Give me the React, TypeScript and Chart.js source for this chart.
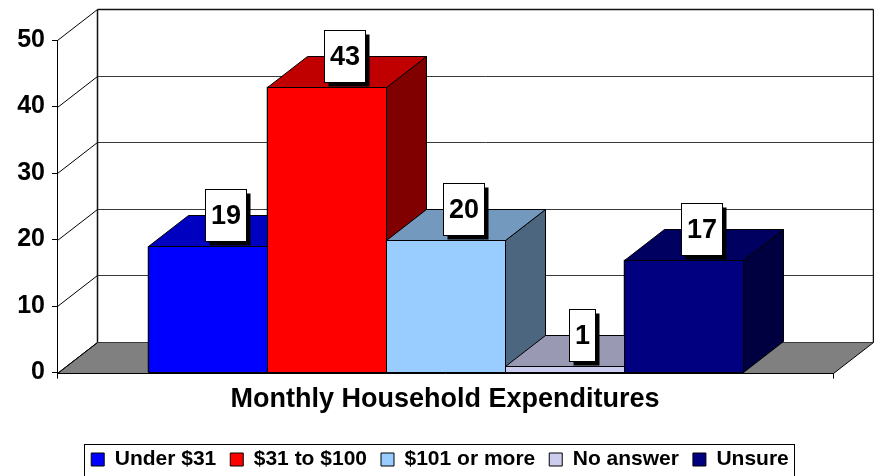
import React, { useEffect, useRef } from "react";
import { Chart, registerables } from "chart.js";

Chart.register(...registerables);

// ---- data ----
const categories = ["Monthly Household Expenditures"];
const seriesNames = ["Under $31", "$31 to $100", "$101 or more", "No answer", "Unsure"];
const seriesValues = [19, 43, 20, 1, 17];
const frontColors = ["#0000FF", "#FF0000", "#99CCFF", "#CCCCEE", "#000080"];
const topColors = ["#0000C0", "#C00000", "#7399BF", "#9999B3", "#000060"];
const sideColors = ["#000080", "#800000", "#4D6680", "#666677", "#000040"];
const yTicks = [0, 10, 20, 30, 40, 50];

const DX = 40;
const DY = 31;
const FONT = "'Liberation Sans', Arial, Helvetica, sans-serif";

const threeD = {
  id: "threeD",
  beforeDatasetsDraw(chart: any) {
    const { ctx, chartArea: a, scales } = chart;
    const ys = scales.y;
    const L = Math.round(a.left) + 0.5;
    const R = Math.round(a.right) + 0.5;
    const y0 = Math.round(ys.getPixelForValue(0)) + 0.5;
    const yTop = Math.round(ys.getPixelForValue(50)) + 0.5;
    ctx.save();
    // floor
    ctx.beginPath();
    ctx.moveTo(L, y0);
    ctx.lineTo(L + DX, y0 - DY);
    ctx.lineTo(R + DX, y0 - DY);
    ctx.lineTo(R, y0);
    ctx.closePath();
    ctx.fillStyle = "#808080";
    ctx.fill();
    ctx.strokeStyle = "#000";
    ctx.lineWidth = 1;
    ctx.stroke();
    // wall gridlines
    for (const v of yTicks) {
      const py = Math.round(ys.getPixelForValue(v)) + 0.5;
      ctx.beginPath();
      ctx.moveTo(L, py);
      ctx.lineTo(L + DX, py - DY);
      ctx.strokeStyle = "#000";
      ctx.lineWidth = 1;
      ctx.stroke();
      ctx.beginPath();
      ctx.moveTo(L + DX, py - DY);
      ctx.lineTo(R + DX, py - DY);
      ctx.strokeStyle = v === 50 ? "#111" : "#3a3a3a";
      ctx.lineWidth = v === 50 ? 1.5 : 1;
      ctx.stroke();
      ctx.lineWidth = 1;
    }
    // back wall verticals
    ctx.strokeStyle = "#111";
    ctx.lineWidth = 1.5;
    ctx.beginPath();
    ctx.moveTo(L + DX, yTop - DY);
    ctx.lineTo(L + DX, y0 - DY);
    ctx.moveTo(R + DX, yTop - DY);
    ctx.lineTo(R + DX, y0 - DY);
    ctx.stroke();
    ctx.restore();
  },
  afterDatasetsDraw(chart: any) {
    const { ctx } = chart;
    ctx.save();
    ctx.lineWidth = 1;
    ctx.strokeStyle = "#000";
    const bars: any[] = [];
    chart.data.datasets.forEach((ds: any, i: number) => {
      const meta = chart.getDatasetMeta(i);
      const el = meta.data[0];
      const p = el.getProps(["x", "y", "base", "width"], true);
      const xl = Math.round(p.x - p.width / 2) + 0.5;
      const xr = Math.round(p.x + p.width / 2) + 0.5;
      const yt = Math.round(p.y) + 0.5;
      const yb = Math.round(p.base) + 0.5;
      bars.push({ x: p.x, xl, xr, yt, yb, i });
      // side
      ctx.beginPath();
      ctx.moveTo(xr, yt);
      ctx.lineTo(xr + DX, yt - DY);
      ctx.lineTo(xr + DX, yb - DY);
      ctx.lineTo(xr, yb);
      ctx.closePath();
      ctx.fillStyle = sideColors[i];
      ctx.fill();
      ctx.stroke();
      // top
      ctx.beginPath();
      ctx.moveTo(xl, yt);
      ctx.lineTo(xl + DX, yt - DY);
      ctx.lineTo(xr + DX, yt - DY);
      ctx.lineTo(xr, yt);
      ctx.closePath();
      ctx.fillStyle = topColors[i];
      ctx.fill();
      ctx.stroke();
      // front
      ctx.beginPath();
      ctx.rect(xl, yt, xr - xl, yb - yt);
      ctx.fillStyle = frontColors[i];
      ctx.fill();
      ctx.stroke();
    });
    // data labels
    ctx.font = `bold 27px ${FONT}`;
    ctx.textAlign = "center";
    ctx.textBaseline = "middle";
    bars.forEach((b) => {
      const txt = String(chart.data.datasets[b.i].data[0]);
      const tw = ctx.measureText(txt).width;
      const w = Math.round(tw + 11);
      const h = 52;
      const cx = b.x + DX / 2 - 2;
      const left = Math.round(cx - w / 2) + 0.5;
      const bottom = Math.round(b.yt - 6) + 0.5;
      const top = bottom - h;
      ctx.fillStyle = "#000";
      ctx.fillRect(left + 4, top + 4, w, h);
      ctx.fillStyle = "#fff";
      ctx.fillRect(left, top, w, h);
      ctx.strokeStyle = "#000";
      ctx.strokeRect(left, top, w, h);
      ctx.fillStyle = "#000";
      ctx.fillText(txt, left + w / 2, top + h / 2 + 1);
    });
    ctx.restore();
  },
  afterDraw(chart: any) {
    const lg = chart.legend;
    if (!lg || !lg.legendHitBoxes || !lg.legendHitBoxes.length) return;
    const hb = lg.legendHitBoxes;
    const first = hb[0];
    const last = hb[hb.length - 1];
    const left = Math.round(first.left - 7) + 0.5;
    const right = Math.round(last.left + last.width + 5) + 0.5;
    const cy = first.top + first.height / 2;
    const top = Math.round(cy - 16) + 0.5;
    const { ctx } = chart;
    ctx.save();
    ctx.strokeStyle = "#000";
    ctx.lineWidth = 1;
    ctx.strokeRect(left, top, right - left, 32);
    ctx.restore();
  },
};

export default function App() {
  const ref = useRef<HTMLCanvasElement>(null);
  useEffect(() => {
    const canvas = ref.current!;
    Chart.defaults.font.family = FONT;
    const chart = new Chart(canvas, {
      type: "bar",
      data: {
        labels: categories,
        datasets: seriesNames.map((name, i) => ({
          label: name,
          data: [seriesValues[i]],
          backgroundColor: frontColors[i],
          borderColor: "#000",
          borderWidth: 1,
          barPercentage: 1,
          categoryPercentage: 595 / 776,
        })),
      },
      options: {
        responsive: false,
        animation: false,
        devicePixelRatio: 1,
        layout: { padding: { top: 40, right: 0, left: 6, bottom: 0 } },
        plugins: {
          legend: {
            position: "bottom",
            labels: {
              color: "#000",
              font: { size: 21, weight: "bold", family: FONT },
              boxWidth: 13,
              boxHeight: 13,
              padding: 14,
            },
          },
          tooltip: { enabled: false },
          title: { display: false },
        },
        scales: {
          x: {
            offset: true,
            grid: { drawOnChartArea: false, drawTicks: true, tickLength: 6, color: "#000", offset: true },
            border: { display: true, color: "#000" },
            ticks: { display: false },
            title: {
              display: true,
              text: "Monthly Household Expenditures",
              color: "#000",
              font: { size: 27, weight: "bold", family: FONT },
              padding: { top: 5, bottom: 19 },
            },
          },
          y: {
            min: 0,
            max: 50,
            ticks: {
              stepSize: 10,
              color: "#000",
              font: { size: 25, weight: "bold", family: FONT },
              padding: 7,
            },
            grid: { drawOnChartArea: false, drawTicks: true, tickLength: 5, color: "#000" },
            border: { display: true, color: "#000" },
            afterFit: (scale: any) => {
              scale.width = 51;
            },
          },
          depth: {
            type: "linear",
            position: "right",
            display: true,
            grid: { display: false, drawTicks: false },
            border: { display: false },
            ticks: { display: false },
            afterFit: (scale: any) => {
              scale.width = 41;
            },
          },
        },
      },
      plugins: [threeD],
    } as any);
    return () => chart.destroy();
  }, []);
  return (
    <div
      style={{
        position: "fixed",
        left: 0,
        top: 0,
        width: 874,
        height: 476,
        overflow: "hidden",
        background: "#fff",
      }}
    >
      <canvas ref={ref} width={874} height={480} style={{ display: "block", width: 874, height: 480 }} />
    </div>
  );
}
